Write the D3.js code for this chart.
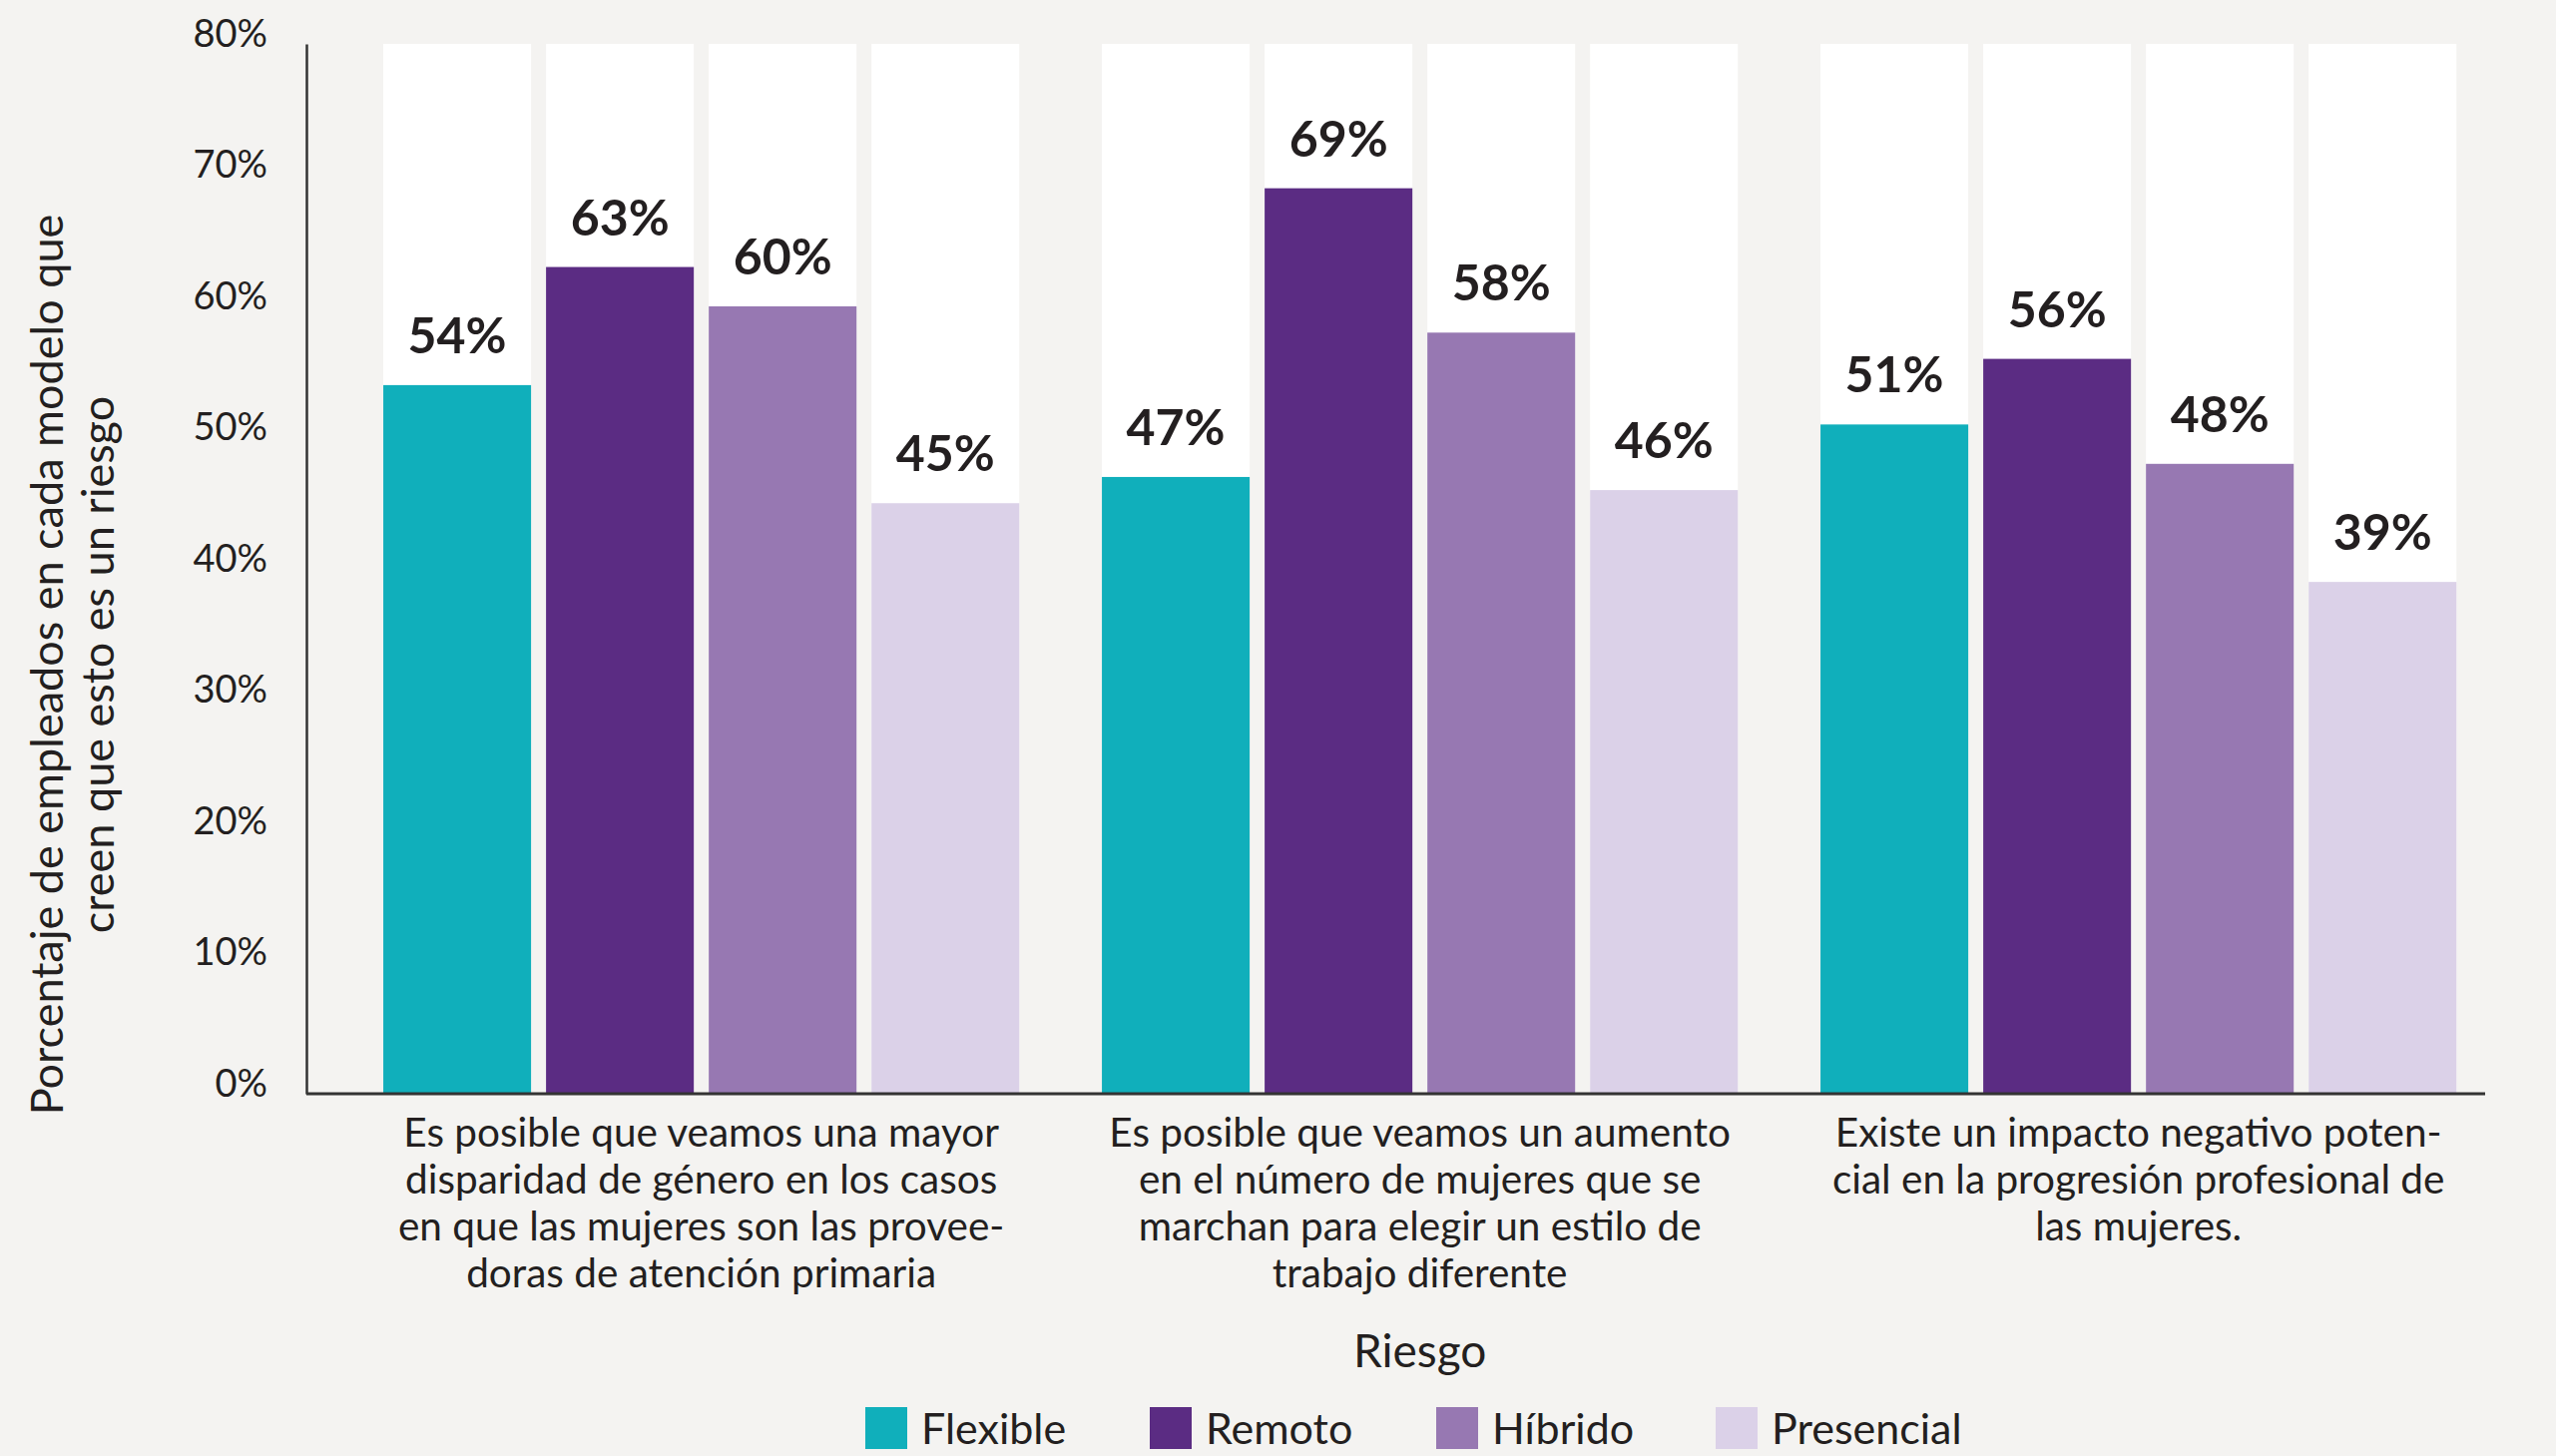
<!DOCTYPE html>
<html lang="es">
<head>
<meta charset="utf-8">
<script src="https://cdn.jsdelivr.net/npm/d3@7"></script>
<style>
  html, body { margin: 0; padding: 0; background: #F4F3F1; overflow: hidden; }
  svg { display: block; }
  text { font-family: Lato, "Open Sans", sans-serif; fill: #231F20; }
</style>
</head>
<body>
<svg id="chart" width="2561" height="1459"></svg>
<script>
// Riesgos percibidos por modelo de trabajo
const categories = ["cat1", "cat2", "cat3"];
const categoryLines = [
  ["Es posible que veamos una mayor", "disparidad de género en los casos", "en que las mujeres son las provee-", "doras de atención primaria"],
  ["Es posible que veamos un aumento", "en el número de mujeres que se", "marchan para elegir un estilo de", "trabajo diferente"],
  ["Existe un impacto negativo poten-", "cial en la progresión profesional de", "las mujeres."]
];
const series = ["Flexible", "Remoto", "Híbrido", "Presencial"];
const flexible   = [54, 47, 51];
const remoto     = [63, 69, 56];
const hibrido    = [60, 58, 48];
const presencial = [45, 46, 39];
const colors = ["#10AFBB", "#5B2C83", "#9778B2", "#DBD1E8"];
const yTicks = [0, 10, 20, 30, 40, 50, 60, 70, 80];
const yMax = 80;
const yTitleLines = ["Porcentaje de empleados en cada modelo que", "creen que esto es un riesgo"];
const xTitle = "Riesgo";

const valuesBySeries = [flexible, remoto, hibrido, presencial];
const rows = categories.map((c, i) => ({
  cat: c,
  values: series.map((s, j) => ({ key: s, value: valuesBySeries[j][i], color: colors[j] }))
}));

const svg = d3.select("#chart");
const m = { left: 307, right: 2483, top: 44, bottom: 1096 };

const x0 = d3.scaleBand()
  .domain(categories)
  .range([m.left, m.right])
  .paddingInner(0.115)
  .paddingOuter(0.0686)
  .align(0.78);

const x1 = d3.scaleBand()
  .domain(series)
  .range([0, x0.bandwidth()])
  .paddingInner(0.092)
  .paddingOuter(0);

const y = d3.scaleLinear().domain([0, yMax]).range([m.bottom, m.top]);

// groups
const g = svg.append("g");
const groups = g.selectAll("g.grp").data(rows).join("g")
  .attr("class", "grp")
  .attr("transform", d => `translate(${x0(d.cat)},0)`);

// white track behind each bar, up to the top of the scale
groups.selectAll("rect.track").data(d => d.values).join("rect")
  .attr("class", "track")
  .attr("x", d => x1(d.key))
  .attr("width", x1.bandwidth())
  .attr("y", y(yMax))
  .attr("height", y(0) - y(yMax))
  .attr("fill", "#FFFFFF");

groups.selectAll("rect.bar").data(d => d.values).join("rect")
  .attr("class", "bar")
  .attr("x", d => x1(d.key))
  .attr("width", x1.bandwidth())
  .attr("y", d => y(d.value))
  .attr("height", d => y(0) - y(d.value))
  .attr("fill", d => d.color);

groups.selectAll("text.val").data(d => d.values).join("text")
  .attr("class", "val")
  .attr("x", d => x1(d.key) + x1.bandwidth() / 2)
  .attr("y", d => y(d.value) - 32)
  .attr("text-anchor", "middle")
  .attr("font-size", 50)
  .attr("font-weight", 700)
  .text(d => d.value + "%");

// y axis
const yAxis = svg.append("g")
  .attr("transform", `translate(${m.left},0)`)
  .call(d3.axisLeft(y).tickValues(yTicks).tickFormat(d => d + "%").tickSize(0).tickPadding(39));
yAxis.select(".domain").attr("stroke", "#333").attr("stroke-width", 2.5);
yAxis.selectAll(".tick text")
  .attr("font-size", 38)
  .attr("dy", "0.06em")
  .style("font-family", "Lato, sans-serif")
  .attr("fill", "#231F20");

// x axis line across the full plot width
const xAxis = svg.append("g")
  .attr("transform", `translate(0,${m.bottom})`)
  .call(d3.axisBottom(x0).tickSize(0).tickFormat(""));
xAxis.select(".domain")
  .attr("d", `M${m.left},0H${m.right + 7}`)
  .attr("stroke", "#333").attr("stroke-width", 3);

const catLabels = svg.append("g").selectAll("text").data(rows).join("text")
  .attr("x", d => x0(d.cat) + x0.bandwidth() / 2)
  .attr("y", 1149)
  .attr("text-anchor", "middle")
  .attr("font-size", 40.5);
catLabels.selectAll("tspan").data((d, i) => categoryLines[i]).join("tspan")
  .attr("x", function () { return d3.select(this.parentNode).attr("x"); })
  .attr("dy", (d, i) => i === 0 ? 0 : 47)
  .text(d => d);

// axis titles
svg.append("text")
  .attr("x", x0(categories[1]) + x0.bandwidth() / 2)
  .attr("y", 1370)
  .attr("text-anchor", "middle")
  .attr("font-size", 46)
  .text(xTitle);

const yTitle = svg.append("text")
  .attr("transform", "translate(0,666) rotate(-90)")
  .attr("text-anchor", "middle")
  .attr("font-size", 45);
yTitle.selectAll("tspan").data(yTitleLines).join("tspan")
  .attr("x", 0)
  .attr("y", (d, i) => 63 + i * 51)
  .text(d => d);

// legend
const legendX = [867, 1152, 1439, 1719];
const legend = svg.append("g").selectAll("g").data(series).join("g")
  .attr("transform", (d, i) => `translate(${legendX[i]},1410)`);
legend.append("rect")
  .attr("width", 42).attr("height", 42)
  .attr("fill", (d, i) => colors[i]);
legend.append("text")
  .attr("x", 56).attr("y", 37)
  .attr("font-size", 43)
  .text(d => d);
</script>
</body>
</html>
